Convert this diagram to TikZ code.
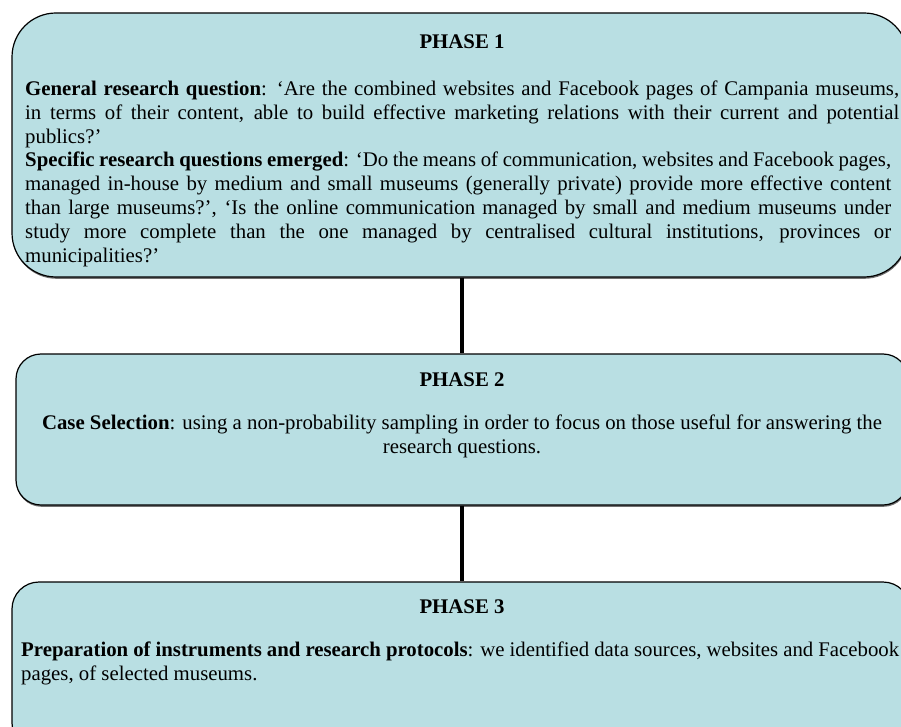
\documentclass[tikz,border=0pt]{standalone}
\usepackage{fontspec}
\setmainfont{Liberation Serif}
\usetikzlibrary{shadows}

\definecolor{phasefill}{RGB}{185,223,227}
\newcommand{\bodysize}{\fontsize{20.8pt}{23.9pt}\selectfont}

\tikzset{
  phasebox/.style={draw=black, line width=1.2pt, fill=phasefill, inner sep=0pt,
    drop shadow={shadow xshift=0.5pt, shadow yshift=-1.8pt, fill=black!70, opacity=0.8}},
  phasetitle/.style={anchor=base, inner sep=0pt, font=\bodysize\bfseries},
  phasetext/.style={anchor=north west, inner sep=0pt, font=\bodysize},
  link/.style={line width=4pt, draw=black},
}

\begin{document}
\begin{tikzpicture}[x=1pt,y=-1pt]
\useasboundingbox (0,0) rectangle (901,727);
\clip (0,0) rectangle (901,727);

% the three phase panels
\node[phasebox, minimum width=896pt, minimum height=264pt, rounded corners=44pt] (p1) at (460,145) {};
\node[phasebox, minimum width=892pt, minimum height=151pt, rounded corners=25pt] (p2) at (462,429.5) {};
\node[phasebox, minimum width=898pt, minimum height=168pt, rounded corners=27pt] (p3) at (461,666) {};

% vertical links between the panels
\coordinate (axis) at (461.5,0);
\draw[link] (p1.south -| axis) -- (p2.north -| axis);
\draw[link] (p2.south -| axis) -- (p3.north -| axis);

% titles
\node[phasetitle] (t1) at (462,49) {PHASE 1};
\node[phasetitle] (t2) at (462,386) {PHASE 2};
\node[phasetitle] (t3) at (462,613) {PHASE 3};

% phase 1 text
\node[phasetext] (q1) at (25,78.3) {\parbox[t]{874pt}{\hyphenpenalty=10000 \exhyphenpenalty=10000 \tolerance=10000
\strut\textbf{General research question}: ‘Are the combined websites and Facebook pages of Campania museums,\linebreak
in terms of their content, able to build effective marketing relations with their current and potential\linebreak
publics?’\par
\rightskip=8pt
\strut\textbf{Specific research questions emerged}: ‘Do the means of communication, websites and Facebook pages,\linebreak
managed in-house by medium and small museums (generally private) provide more effective content\linebreak
than large museums?’, ‘Is the online communication managed by small and medium museums under\linebreak
study more complete than the one managed by centralised cultural institutions, provinces or\linebreak
municipalities?’}};

% phase 2 text
\node[phasetext, anchor=north, align=center] (q2) at (462,412.3) {\strut\textbf{Case Selection}: using a non-probability sampling in order to focus on those useful for answering the\\research questions.};

% phase 3 text
\node[phasetext] (q3) at (21,639.3) {\parbox[t]{878pt}{\hyphenpenalty=10000 \tolerance=10000
\strut\textbf{Preparation of instruments and research protocols}: we identified data sources, websites and Facebook\linebreak
pages, of selected museums.}};
\end{tikzpicture}
\end{document}
